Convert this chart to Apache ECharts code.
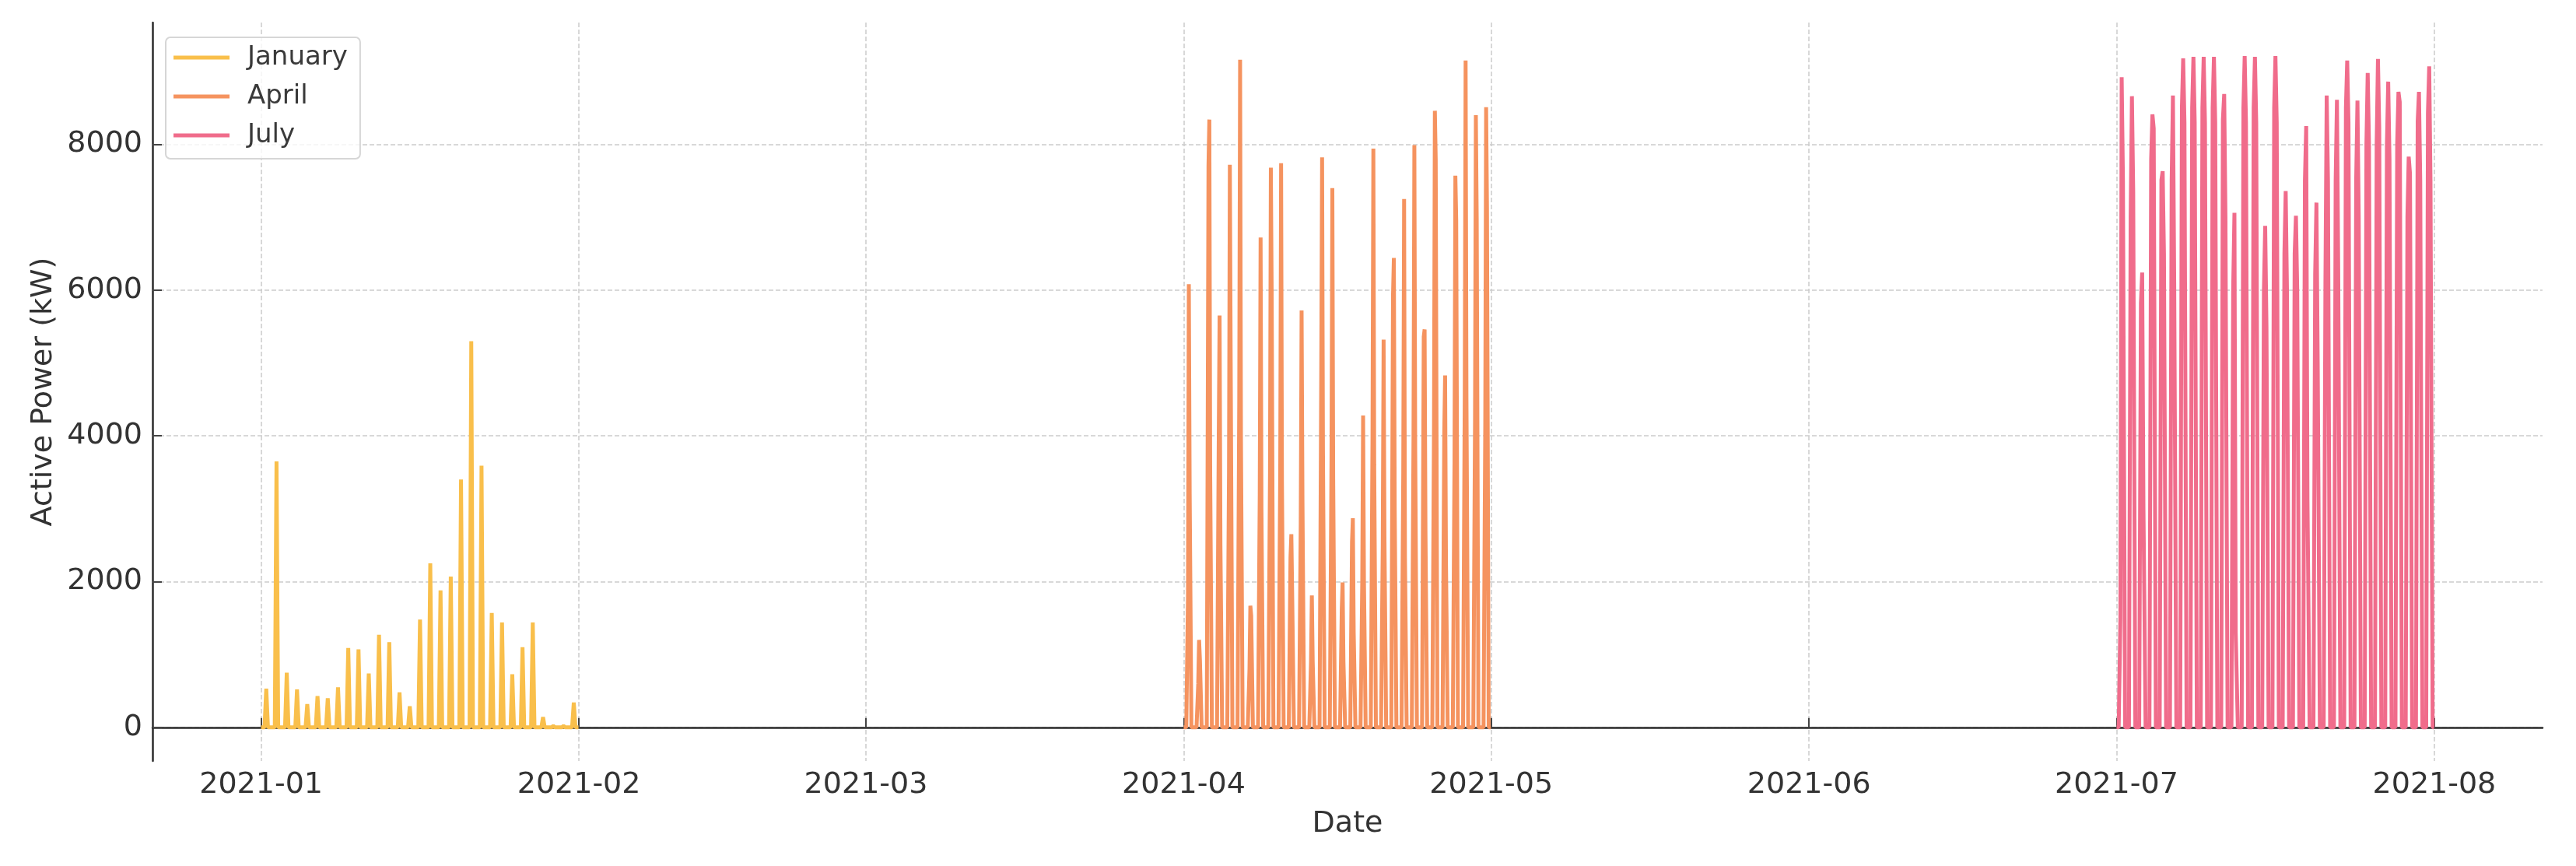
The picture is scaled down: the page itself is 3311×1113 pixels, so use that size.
<!DOCTYPE html>
<html>
<head>
<meta charset="utf-8">
<title>Active Power</title>
<script src="https://cdn.jsdelivr.net/npm/echarts@6/dist/echarts.min.js"></script>
<style>
  html, body { margin: 0; padding: 0; background: #fff; }
  #chart { width: 3311px; height: 1113px; }
</style>
</head>
<body>
<div id="chart"></div>
<script>
// daily peaks, January (kW)
const janPeak = [530, 3650, 750, 520, 320, 430, 400, 550, 1090, 1070, 740, 1270, 1170, 480, 290,
  1480, 2250, 1880, 2070, 3400, 5300, 3590, 1570, 1440, 730, 1100, 1440, 140, 20, 20, 340];

// April: [10:00, 12:00, 14:00] per day
const aprDays = [
  [1800, 6080, 3200], [600, 1200, 920], [7700, 8340, 3500], [3950, 5650, 2500], [3500, 7720, 5030],
  [4500, 9160, 4000], [800, 1670, 1530], [3200, 6720, 3000], [3500, 7680, 5880], [3600, 7740, 3370],
  [2330, 2650, 1800], [2800, 5720, 3130], [900, 1810, 900], [4900, 7820, 3800], [3700, 7400, 3400],
  [1620, 1990, 900], [2540, 2870, 1300], [2000, 4280, 2000], [4000, 7940, 3600], [2500, 5320, 2600],
  [5920, 6440, 3000], [3500, 7250, 2330], [4000, 7990, 3800], [5360, 5460, 2700], [4200, 8460, 7790],
  [4050, 4830, 2300], [3700, 7570, 6960], [4600, 9150, 4500], [4200, 8400, 6990], [4200, 8510, 7140]
];

// July: [09:00, 12:00, 15:00] per day
const julDays = [
  [1500, 8920, 7500], [7000, 8660, 7360], [5820, 6240, 3000], [7800, 8410, 8220], [7510, 7630, 6500],
  [7500, 8670, 6100], [8500, 9180, 8300], [8500, 9200, 8300], [8500, 9200, 8300], [8500, 9200, 8300],
  [8340, 8690, 7000], [6000, 7060, 1290], [8500, 9210, 8300], [8500, 9200, 8300], [6000, 6880, 5500],
  [8500, 9210, 8300], [6500, 7360, 6000], [6500, 7020, 6010], [7500, 8250, 3130], [6220, 7200, 4970],
  [6100, 8670, 7500], [7500, 8610, 6280], [8500, 9150, 8300], [7500, 8600, 6990], [8000, 8980, 8000],
  [8000, 9170, 8220], [8000, 8860, 7800], [8000, 8720, 8580], [7000, 7830, 7600], [8310, 8720, 7500],
  [8430, 9070, 7500]
];

const monthNames = ['January', 'April', 'July'];
const colors = ['#F9BF4B', '#F5935F', '#F06C8B'];
const yTicks = [0, 2000, 4000, 6000, 8000];
const monthTicks = [0, 1, 2, 3, 4, 5, 6, 7].map(m => Date.UTC(2021, m, 1));

const H = 3600 * 1000;

// one month of points: night at 0, daytime values at given hours
function buildMonth(month, days, dayHours, sunrise, sunset) {
  const out = [];
  days.forEach((vals, i) => {
    const base = Date.UTC(2021, month, i + 1);
    out.push([base, 0]);
    out.push([base + sunrise * H, 0]);
    vals.forEach((v, k) => out.push([base + dayHours[k] * H, v]));
    out.push([base + sunset * H, 0]);
  });
  const last = Date.UTC(2021, month, days.length);
  out.push([last + 23 * H, 0]);
  return out;
}

const janData = buildMonth(0, janPeak.map(v => [v]), [12], 8, 16);
const aprData = buildMonth(3, aprDays, [10, 12, 14], 6, 18);
const julData = buildMonth(6, julDays, [9, 12, 15], 5, 20);

const tStart = Date.UTC(2021, 0, 1);
const tEnd = Date.UTC(2021, 6, 31, 23);
const xPad = (tEnd - tStart) * 0.05;
const yMaxData = Math.max(...janPeak, ...aprDays.flat(), ...julDays.flat());

const FONT = 'DejaVu Sans';
const chart = echarts.init(document.getElementById('chart'));

chart.setOption({
  animation: false,
  backgroundColor: '#ffffff',
  textStyle: { fontFamily: FONT },
  grid: { left: 196, right: 43, top: 29, bottom: 135 },
  legend: {
    data: monthNames,
    orient: 'vertical',
    left: 213,
    top: 48,
    icon: 'rect',
    itemWidth: 72,
    itemHeight: 5,
    itemGap: 10,
    padding: [6, 16, 10, 10],
    backgroundColor: 'rgba(255,255,255,0.8)',
    borderColor: '#d6d6d6',
    borderWidth: 2,
    borderRadius: 6,
    textStyle: { fontFamily: FONT, fontSize: 34, color: '#3a3a3a', lineHeight: 40, padding: [0, 0, 0, 18] }
  },
  xAxis: {
    type: 'value',
    min: tStart - xPad,
    max: tEnd + xPad,
    name: 'Date',
    nameLocation: 'middle',
    nameGap: 62,
    nameTextStyle: { fontFamily: FONT, fontSize: 38, color: '#333' },
    axisLine: { show: true, lineStyle: { color: '#2b2b2b', width: 2.5 } },
    axisTick: { show: true, inside: true, length: 12, customValues: monthTicks, lineStyle: { color: '#444', width: 2 } },
    axisLabel: {
      customValues: monthTicks,
      margin: 12,
      fontFamily: FONT,
      fontSize: 38,
      color: '#333',
      formatter: function (v) {
        const d = new Date(v);
        const m = d.getUTCMonth() + 1;
        return d.getUTCFullYear() + '-' + (m < 10 ? '0' + m : m);
      }
    },
    splitLine: { show: true, lineStyle: { color: '#cccccc', width: 1.5, type: [6, 3] } }
  },
  yAxis: {
    type: 'value',
    min: -0.05 * yMaxData,
    max: 1.05 * yMaxData,
    name: 'Active Power (kW)',
    nameLocation: 'middle',
    nameGap: 118,
    nameTextStyle: { fontFamily: FONT, fontSize: 38, color: '#333' },
    axisLine: { show: true, lineStyle: { color: '#2b2b2b', width: 2.5 } },
    axisTick: { show: true, inside: true, length: 12, customValues: yTicks, lineStyle: { color: '#444', width: 2 } },
    axisLabel: {
      customValues: yTicks, margin: 13, fontFamily: FONT, fontSize: 38, color: '#333',
      formatter: v => String(v)
    },
    splitLine: { show: true, lineStyle: { color: '#cccccc', width: 1.5, type: [6, 3] } }
  },
  series: [janData, aprData, julData].map((d, i) => ({
    name: monthNames[i],
    type: 'line',
    data: d,
    showSymbol: false,
    symbol: 'none',
    color: colors[i],
    lineStyle: { width: 5, color: colors[i] }
  }))
});
</script>
</body>
</html>
